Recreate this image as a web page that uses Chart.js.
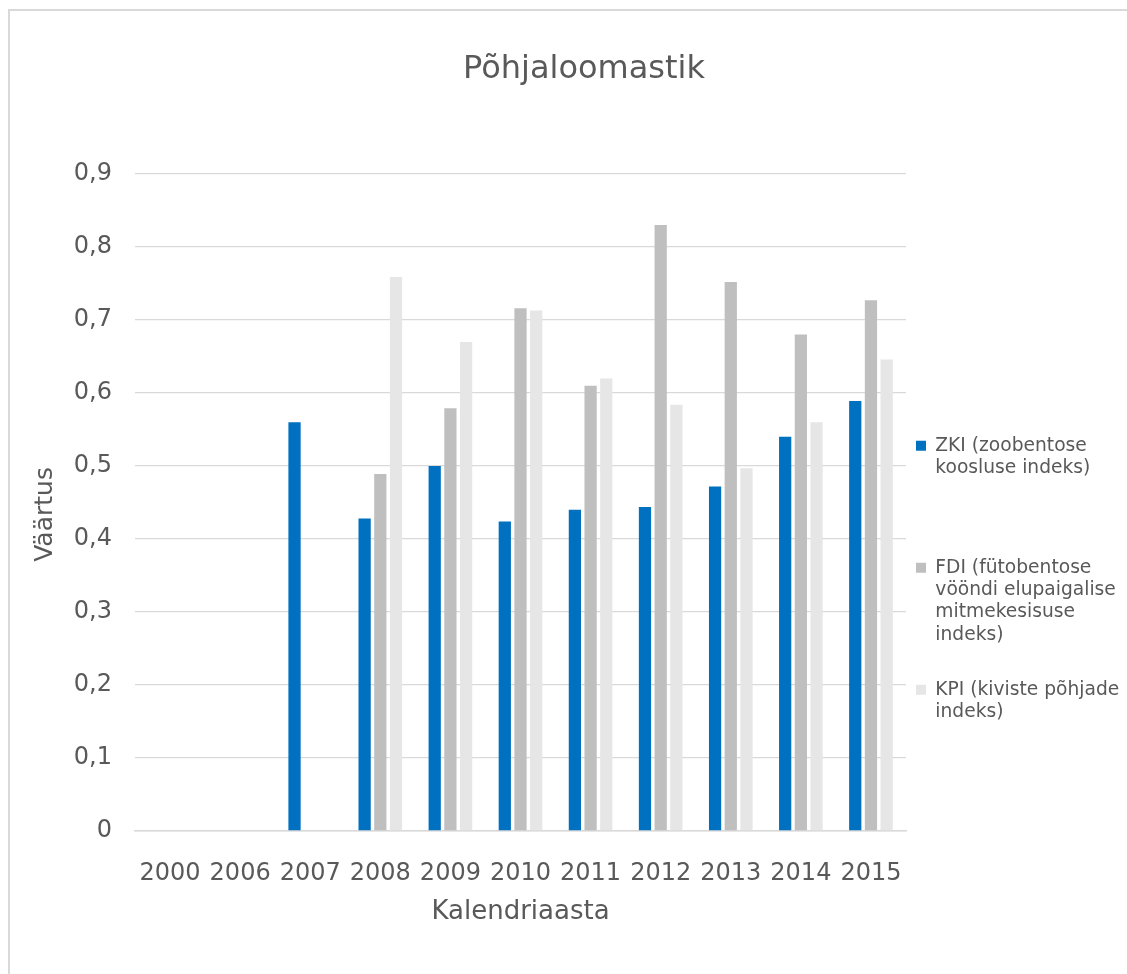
<!DOCTYPE html>
<html>
<head>
<meta charset="utf-8">
<title>Põhjaloomastik</title>
<script src="https://cdn.jsdelivr.net/npm/chart.js@4/dist/chart.umd.min.js"></script>
<style>
  html, body { margin: 0; padding: 0; background: #ffffff; overflow: hidden; width: 1127px; height: 974px; }
  #frame { position: absolute; left: 8px; top: 9px; width: 1300px; height: 1100px; border: 2px solid #d9d9d9; box-sizing: border-box; }
  #chart { position: absolute; left: 0; top: 0; }
</style>
</head>
<body>
<div id="frame"></div>
<canvas id="chart" width="1127" height="974"></canvas>
<script>
// Calendar years on the x axis
const categories = ['2000', '2006', '2007', '2008', '2009', '2010', '2011', '2012', '2013', '2014', '2015'];

// Index values per year (null = no measurement)
const zki = [null, null, 0.56, 0.428, 0.50, 0.424, 0.44, 0.444, 0.472, 0.54, 0.589];
const fdi = [null, null, null, 0.489, 0.579, 0.716, 0.61, 0.83, 0.752, 0.68, 0.727];
const kpi = [null, null, null, 0.759, 0.67, 0.713, 0.62, 0.584, 0.497, 0.56, 0.646];

const seriesLabels = [
  'ZKI (zoobentose koosluse indeks)',
  'FDI (fütobentose vööndi elupaigalise mitmekesisuse indeks)',
  'KPI (kiviste põhjade indeks)'
];
// Wrapped legend text
const legendLines = [
  ['ZKI (zoobentose', 'koosluse indeks)'],
  ['FDI (fütobentose', 'vööndi elupaigalise', 'mitmekesisuse', 'indeks)'],
  ['KPI (kiviste põhjade', 'indeks)']
];
const yTickLabels = ['0', '0,1', '0,2', '0,3', '0,4', '0,5', '0,6', '0,7', '0,8', '0,9'];
const seriesColors = ['#0070C0', '#BFBFBF', '#E7E6E6'];

const textColor = '#595959';
const gridColor = '#D9D9D9';

Chart.defaults.font.family = "'DejaVu Sans', Verdana, sans-serif";
Chart.defaults.color = textColor;

const barOpts = { barPercentage: 0.78, categoryPercentage: 0.672, borderWidth: 0 };

new Chart(document.getElementById('chart'), {
  type: 'bar',
  data: {
    labels: categories,
    datasets: [
      Object.assign({ label: seriesLabels[0], data: zki, backgroundColor: seriesColors[0] }, barOpts),
      Object.assign({ label: seriesLabels[1], data: fdi, backgroundColor: seriesColors[1] }, barOpts),
      Object.assign({ label: seriesLabels[2], data: kpi, backgroundColor: seriesColors[2] }, barOpts)
    ]
  },
  options: {
    responsive: false,
    animation: false,
    devicePixelRatio: 1,
    layout: { padding: { left: 41, top: 50, right: 0, bottom: 0 } },
    plugins: {
      title: {
        display: true,
        text: 'Põhjaloomastik',
        color: textColor,
        font: { size: 32, weight: 'normal' },
        padding: { top: 0, bottom: 85.6 }
      },
      legend: {
        position: 'right',
        align: 'start',
        fullSize: false,
        maxWidth: 221,
        title: { display: true, text: '', font: { size: 10, lineHeight: 1 }, padding: { top: 242.4, bottom: 0 } },
        labels: {
          boxWidth: 10,
          boxHeight: 10,
          padding: 10,
          color: textColor,
          font: { size: 18.67 },
          generateLabels(chart) {
            const items = Chart.defaults.plugins.legend.labels.generateLabels(chart);
            return items.map((item, i) => {
              const lines = legendLines[i].slice();
              // equal-height slots for every entry except the last one
              if (i < legendLines.length - 1) {
                while (lines.length < 5) lines.push('');
              }
              item.text = lines;
              item.lineWidth = 0;
              return item;
            });
          }
        }
      },
      tooltip: { enabled: false }
    },
    scales: {
      x: {
        grid: { display: false },
        border: { display: true, color: gridColor, width: 1.5 },
        ticks: { color: textColor, font: { size: 24 }, padding: 20, maxRotation: 0, autoSkip: false },
        title: {
          display: true,
          text: 'Kalendriaasta',
          color: textColor,
          font: { size: 26 },
          padding: { top: 0, bottom: 46.4 }
        },
        afterFit(scale) { scale.height = 143; }
      },
      y: {
        min: 0,
        max: 0.9,
        grid: { color: gridColor, lineWidth: 1.3, drawTicks: false },
        border: { display: false },
        ticks: {
          stepSize: 0.1,
          padding: 23,
          color: textColor,
          font: { size: 24 },
          callback: (v) => yTickLabels[Math.round(v * 10)]
        },
        title: {
          display: true,
          text: 'Väärtus   ',
          color: textColor,
          font: { size: 25 },
          padding: { top: -10.6, bottom: 0 }
        },
        afterFit(scale) { scale.width = 94; }
      }
    }
  }
});
</script>
</body>
</html>
